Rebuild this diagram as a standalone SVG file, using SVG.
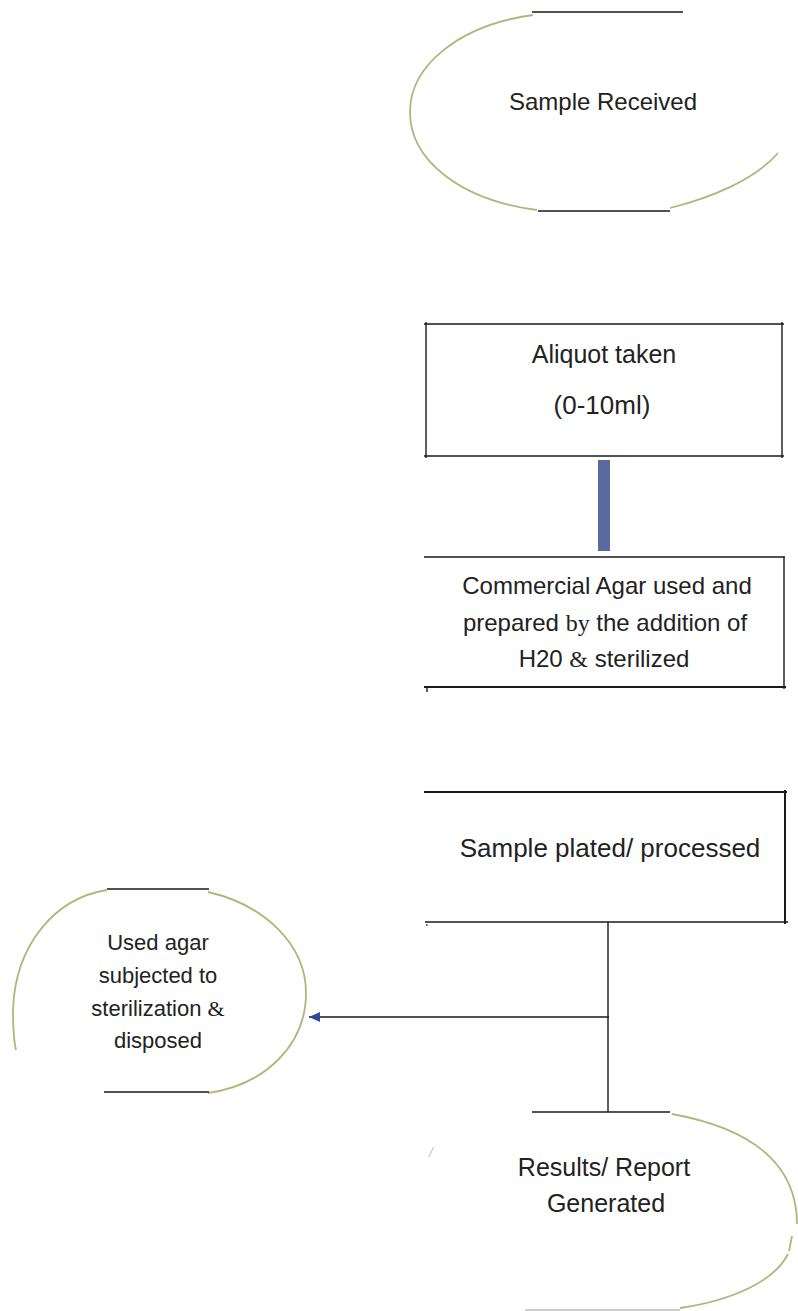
<svg xmlns="http://www.w3.org/2000/svg" width="798" height="1311" viewBox="0 0 798 1311">
<defs>
<style>
.t{font-family:"Liberation Sans",Arial,sans-serif;fill:#222;text-anchor:middle}
.s{font-family:"Liberation Serif","Times New Roman",serif}
.arc{fill:none;stroke:#b3b57a;stroke-width:1.8}
.ln{stroke:#1a1a1a;stroke-width:1.4;fill:none}
.lnb{stroke:#1a1a1a;stroke-width:2;fill:none}
</style>
<marker id="ah" markerWidth="12" markerHeight="10" refX="11" refY="5" orient="auto" markerUnits="userSpaceOnUse">
<path d="M0,0 L11,5 L0,10 Z" fill="#2b4a9e"/>
</marker>
</defs>
<rect width="798" height="1311" fill="#fff"/>

<g id="sample-received">
<path class="arc" d="M533,15 C460,25 410,65 410,112 C410,160 460,200 537,210"/>
<path class="arc" d="M670,208 C710,198 755,180 778,153"/>
<line class="ln" x1="532" y1="12" x2="683" y2="12"/>
<line class="ln" x1="538" y1="211" x2="670" y2="211"/>
<text class="t" x="603" y="110" font-size="24">Sample Received</text>
</g>

<g id="aliquot">
<line class="ln" x1="424" y1="324" x2="784" y2="324"/>
<line class="ln" x1="424" y1="456" x2="784" y2="456"/>
<line class="ln" x1="426" y1="322" x2="426" y2="458"/>
<line class="ln" x1="782" y1="322" x2="782" y2="458"/>
<text class="t" x="604" y="363" font-size="25">Aliquot taken</text>
<text class="t" x="602" y="414" font-size="26">(0-10ml)</text>
</g>

<g id="agar">
<line class="ln" x1="424" y1="557" x2="785" y2="557"/>
<line class="lnb" x1="424" y1="687" x2="786" y2="687"/>
<line class="ln" x1="784" y1="557" x2="784" y2="689"/>
<line class="ln" x1="427" y1="688" x2="427" y2="692"/>
<text class="t" x="607" y="594" font-size="24">Commercial Agar used and</text>
<text class="t" x="605" y="631" font-size="24">prepared  <tspan class="s">by</tspan> the addition of</text>
<text class="t" x="604" y="667" font-size="24">H20 <tspan class="s">&amp;</tspan> sterilized</text>
</g>

<g id="plated">
<line class="lnb" x1="424" y1="792" x2="787" y2="792"/>
<line class="lnb" x1="785" y1="790" x2="785" y2="924"/>
<line class="ln" x1="425" y1="922" x2="788" y2="922"/>
<rect x="426" y="924" width="1.5" height="2" fill="#555"/>
<text class="t" x="610" y="857" font-size="26">Sample plated/ processed</text>
</g>

<g id="disposal">
<path class="arc" d="M107,890 C55,898 15,945 13,1010 C13,1030 14,1042 16,1050"/>
<path class="arc" d="M208,892 C265,905 306,945 306,993 C306,1045 265,1085 208,1093"/>
<line class="ln" x1="107" y1="889" x2="209" y2="889"/>
<line class="ln" x1="104" y1="1092" x2="209" y2="1092"/>
<text class="t" x="158" y="950" font-size="22">Used agar</text>
<text class="t" x="158" y="983" font-size="22">subjected to</text>
<text class="t" x="158" y="1016" font-size="22">sterilization <tspan class="s">&amp;</tspan></text>
<text class="t" x="158" y="1048" font-size="22">disposed</text>
</g>

<g id="results">
<path class="arc" d="M672,1114 C760,1130 797,1170 797,1224"/>
<line class="arc" x1="792" y1="1236" x2="789" y2="1251"/>
<path class="arc" d="M788,1254 C775,1280 735,1300 680,1308"/>
<line class="ln" x1="532" y1="1112" x2="670" y2="1112"/>
<line stroke="#999" stroke-width="1" x1="525" y1="1310" x2="680" y2="1310"/>
<text x="431" y="1157" font-size="14" fill="#aaa" font-family="Liberation Serif,serif" font-style="italic" text-anchor="middle">/</text>
<text class="t" x="604" y="1176" font-size="25">Results/ Report</text>
<text class="t" x="606" y="1212" font-size="25">Generated</text>
</g>

<g id="connectors">
<rect x="598" y="460" width="12" height="91" fill="#5a6a9c"/>
<line class="ln" x1="608" y1="922" x2="608" y2="1112"/>
<line class="ln" x1="609" y1="1017" x2="309" y2="1017" marker-end="url(#ah)"/>
</g>
</svg>
